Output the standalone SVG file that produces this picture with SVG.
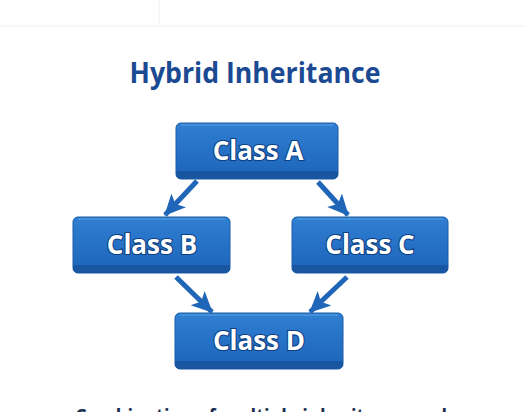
<svg xmlns="http://www.w3.org/2000/svg" width="524" height="412" viewBox="0 0 524 412">
<defs>
<linearGradient id="boxg" x1="0" y1="0" x2="0" y2="1">
<stop offset="0" stop-color="#2f7fd2"/>
<stop offset="0.85" stop-color="#1f68bd"/>
<stop offset="1" stop-color="#1a5aa8"/>
</linearGradient>
<marker id="ah" markerUnits="userSpaceOnUse" markerWidth="22" markerHeight="22" viewBox="0 0 22 22" refX="20" refY="11" orient="auto">
<path d="M0,1 L21,11 L0,21 L5,11 Z" fill="#1f66b8"/>
</marker>
<style>
.box{fill:url(#boxg);stroke:#1a5aa6;stroke-width:1}
.band{fill:#1856a2}
.hl{stroke:#5a9be0;stroke-width:1.5;fill:none;opacity:0.8}
.lbl{font-family:"Open Sans","Noto Sans","Liberation Sans",sans-serif;font-weight:700;font-size:26px;fill:#ffffff;stroke:#0e3f82;stroke-width:2.2;paint-order:stroke;text-anchor:middle}
.conn{stroke:#1f66b8;stroke-width:5;fill:none;marker-end:url(#ah)}
</style>
</defs>
<rect width="524" height="412" fill="#ffffff"/>
<line x1="0" y1="26" x2="524" y2="26" stroke="#efefef" stroke-width="1"/>
<line x1="159" y1="0" x2="159" y2="26" stroke="#f1f1f1" stroke-width="1"/>
<text x="255" y="83" font-family="'Open Sans','Noto Sans','Liberation Sans',sans-serif" font-weight="700" font-size="29" fill="#1b4a92" text-anchor="middle" textLength="251" lengthAdjust="spacingAndGlyphs">Hybrid Inheritance</text>
<g id="connectors">
<line class="conn" x1="197" y1="181" x2="165" y2="215"/>
<line class="conn" x1="318" y1="182" x2="348" y2="215"/>
<line class="conn" x1="176" y1="277" x2="212" y2="312"/>
<line class="conn" x1="347" y1="277" x2="310" y2="312"/>
</g>
<g id="classA">
<rect class="box" x="176" y="123" width="162" height="56" rx="5"/>
<path class="band" d="M176,171 H338 V174 a5,5 0 0 1 -5,5 H181 a5,5 0 0 1 -5,-5 Z"/>
<line class="hl" x1="181" y1="125" x2="333" y2="125"/>
<text class="lbl" x="258" y="160">Class A</text>
</g>
<g id="classB">
<rect class="box" x="73" y="217" width="157" height="56" rx="5"/>
<path class="band" d="M73,265 H230 V268 a5,5 0 0 1 -5,5 H78 a5,5 0 0 1 -5,-5 Z"/>
<line class="hl" x1="78" y1="219" x2="225" y2="219"/>
<text class="lbl" x="152" y="254">Class B</text>
</g>
<g id="classC">
<rect class="box" x="292" y="217" width="156" height="56" rx="5"/>
<path class="band" d="M292,265 H448 V268 a5,5 0 0 1 -5,5 H297 a5,5 0 0 1 -5,-5 Z"/>
<line class="hl" x1="297" y1="219" x2="443" y2="219"/>
<text class="lbl" x="370" y="254">Class C</text>
</g>
<g id="classD">
<rect class="box" x="175" y="313" width="168" height="56" rx="5"/>
<path class="band" d="M175,361 H343 V364 a5,5 0 0 1 -5,5 H180 a5,5 0 0 1 -5,-5 Z"/>
<line class="hl" x1="180" y1="315" x2="338" y2="315"/>
<text class="lbl" x="259" y="350">Class D</text>
</g>
<text x="75" y="423" font-family="'Open Sans','Noto Sans','Liberation Sans',sans-serif" font-weight="700" font-size="20" fill="#1a2d52" textLength="372" lengthAdjust="spacingAndGlyphs">Combination of multiple inheritance and</text>
</svg>
